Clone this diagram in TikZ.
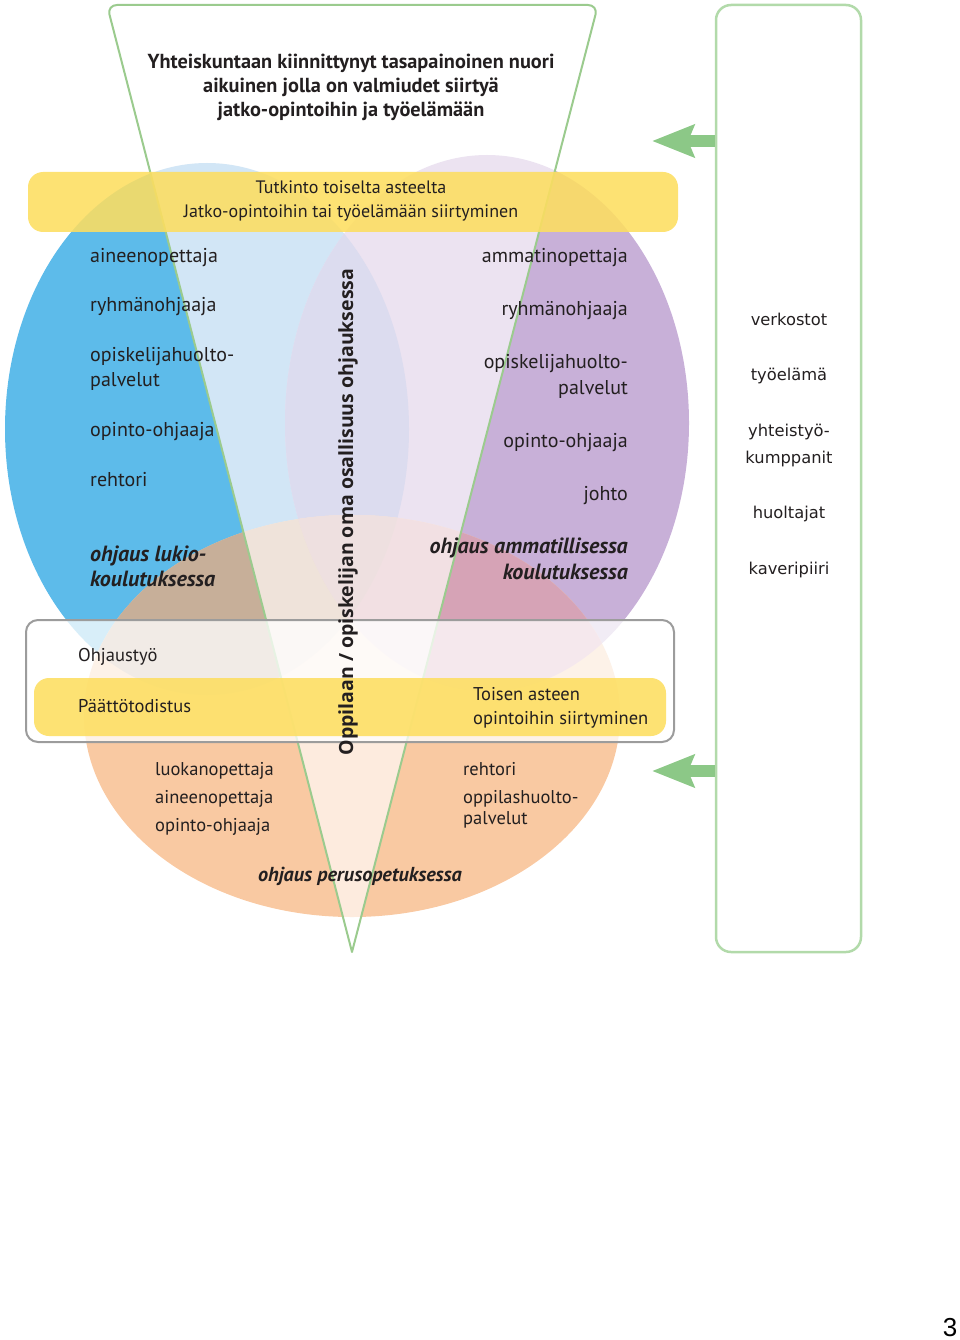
\documentclass[tikz,border=0pt]{standalone}
\usepackage{fontspec}
\setmainfont{PT Sans}
\newfontfamily\vfont{Open Sans}
\newfontfamily\rfont{DejaVu Sans}
\newfontfamily\pfont{Liberation Sans}
\usetikzlibrary{arrows.meta}
\definecolor{cBlue}{HTML}{5DBBEA}
\definecolor{cPurple}{HTML}{C8B0D8}
\definecolor{cOrange}{HTML}{F9C9A2}
\definecolor{cBrown}{HTML}{C7AF99}
\definecolor{cPink}{HTML}{D6A3B6}
\definecolor{lBlue}{HTML}{D2E6F6}
\definecolor{lPurple}{HTML}{ECE3F1}
\definecolor{lBP}{HTML}{DCDCEF}
\definecolor{lOrange}{HTML}{FDEBDE}
\definecolor{lBO}{HTML}{EFE3DA}
\definecolor{lPO}{HTML}{F2E0E3}
\definecolor{lBPO}{HTML}{EEE0E0}
\definecolor{cYellow}{HTML}{FDDE60}
\definecolor{cGreen}{HTML}{8CC887}
\definecolor{cGreenL}{HTML}{B2DAAA}
\definecolor{cTri}{HTML}{9BCB8E}
\definecolor{cGray}{HTML}{9C9C9C}
\definecolor{cText}{HTML}{231F20}
\def\Bpath{(207,429) ellipse [x radius=202pt, y radius=266pt]}
\def\Ppath{(487,423) ellipse [x radius=202pt, y radius=268pt]}
\def\Opath{(352,716) ellipse [x radius=268pt, y radius=201pt]}
\def\Tpath{(352,952) -- (107,5) -- (598,5) -- cycle}
\begin{document}
\begin{tikzpicture}[x=1pt,y=-1pt,
  txt/.style={inner sep=0pt, text=cText, font=\fontsize{20}{24}\selectfont},
  stxt/.style={inner sep=0pt, text=cText, font=\fontsize{18.5}{22}\selectfont},
  btxt/.style={inner sep=0pt, text=cText, font=\fontsize{18}{22}\selectfont},
  ttl/.style={inner sep=0pt, text=cText, font=\fontsize{20.3}{24}\selectfont\bfseries},
  emph/.style={inner sep=0pt, text=cText, font=\fontsize{22}{26}\selectfont\bfseries\itshape},
  semph/.style={inner sep=0pt, text=cText, font=\fontsize{20.2}{24}\selectfont\bfseries\itshape},
  rtxt/.style={inner sep=0pt, text=cText, font=\rfont\fontsize{16.3}{19}\selectfont},
  band/.style={fill=cYellow, fill opacity=0.88, rounded corners=15pt, inner sep=0pt},
  garrow/.style={draw=cGreen, line width=12pt, -{Stealth[length=42pt, width=32pt, inset=6pt]}}]
\useasboundingbox (0,0) rectangle (960,1340);
% outside-triangle colours
\fill[cBlue] \Bpath;
\fill[cPurple] \Ppath;
\fill[cOrange] \Opath;
\begin{scope}\clip \Bpath; \fill[cBrown] \Opath;\end{scope}
\begin{scope}\clip \Ppath; \fill[cPink] \Opath;\end{scope}
% inside-triangle colours
\begin{scope}
  \clip \Tpath;
  \fill[white] \Tpath;
  \fill[lBlue] \Bpath;
  \fill[lPurple] \Ppath;
  \begin{scope}\clip \Bpath; \fill[lBP] \Ppath;\end{scope}
  \fill[lOrange] \Opath;
  \begin{scope}\clip \Bpath; \fill[lBO] \Opath;\end{scope}
  \begin{scope}\clip \Ppath; \fill[lPO] \Opath;\end{scope}
  \begin{scope}\clip \Bpath; \clip \Ppath; \fill[lBPO] \Opath;\end{scope}
\end{scope}
% triangle outline
\draw[cTri, line width=2pt, rounded corners=10pt, line cap=round] (352,952) -- (107,5) -- (598,5) -- (352,952);
% bands and boxes
\node[band, minimum width=650pt, minimum height=60pt] (band1) at (353,202) {};
\node[draw=cGray, line width=2pt, fill=white, fill opacity=0.76, rounded corners=12pt, minimum width=648pt, minimum height=122pt, inner sep=0pt] (obox) at (350,681) {};
\node[band, minimum width=632pt, minimum height=58pt] (band2) at (350,707) {};
\node[draw=cGreenL, line width=2.5pt, rounded corners=15pt, minimum width=145pt, minimum height=947pt, inner sep=0pt] (net) at (788.5,478.5) {};
\coordinate (tip1) at (652,141);
\coordinate (tip2) at (652,771);
\draw[garrow] (net.west |- tip1) -- (tip1);
\draw[garrow] (net.west |- tip2) -- (tip2);
% title
\node[ttl, anchor=base] (t1) at (351,69) {Yhteiskuntaan kiinnittynyt tasapainoinen nuori};
\node[ttl, anchor=base] (t2) at (351,93) {aikuinen jolla on valmiudet siirtyä};
\node[ttl, anchor=base] (t3) at (351,117) {jatko-opintoihin ja työelämään};
% top band text
\node[btxt, anchor=base] (b1) at (351,194) {Tutkinto toiselta asteelta};
\node[btxt, anchor=base] (b2) at (351,218) {Jatko-opintoihin tai työelämään siirtyminen};
% left column
\node[txt, anchor=base west] (l1) at (90,262) {aineenopettaja};
\node[txt, anchor=base west] (l2) at (90,311) {ryhmänohjaaja};
\node[txt, anchor=base west] (l3) at (90,361) {opiskelijahuolto-};
\node[txt, anchor=base west] (l3b) at (90,386) {palvelut};
\node[txt, anchor=base west] (l4) at (90,436) {opinto-ohjaaja};
\node[txt, anchor=base west] (l5) at (90,486) {rehtori};
\node[emph, anchor=base west] (l6) at (90,561) {ohjaus lukio-};
\node[emph, anchor=base west] (l6b) at (90,586) {koulutuksessa};
% right column
\node[txt, anchor=base east] (r1) at (628,262) {ammatinopettaja};
\node[txt, anchor=base east] (r2) at (628,315) {ryhmänohjaaja};
\node[txt, anchor=base east] (r3) at (628,368) {opiskelijahuolto-};
\node[txt, anchor=base east] (r3b) at (628,394) {palvelut};
\node[txt, anchor=base east] (r4) at (628,447) {opinto-ohjaaja};
\node[txt, anchor=base east] (r5) at (628,500) {johto};
\node[emph, anchor=base east] (r6) at (628,553) {ohjaus ammatillisessa};
\node[emph, anchor=base east] (r6b) at (628,579) {koulutuksessa};
% box texts
\node[stxt, anchor=base west] (o1) at (78,661) {Ohjaustyö};
\node[stxt, anchor=base west] (o2) at (78,712) {Päättötodistus};
\node[stxt, anchor=base west] (o3) at (473,700) {Toisen asteen};
\node[stxt, anchor=base west] (o4) at (473,724) {opintoihin siirtyminen};
% bottom texts
\node[stxt, anchor=base west] (p1) at (155,775) {luokanopettaja};
\node[stxt, anchor=base west] (p2) at (155,803) {aineenopettaja};
\node[stxt, anchor=base west] (p3) at (155,831) {opinto-ohjaaja};
\node[stxt, anchor=base west] (p4) at (463,775) {rehtori};
\node[stxt, anchor=base west] (p5) at (463,803) {oppilashuolto-};
\node[stxt, anchor=base west] (p6) at (463,824) {palvelut};
\node[semph, anchor=base] (p7) at (360,881) {ohjaus perusopetuksessa};
% vertical text
\node[inner sep=0pt, text=cText, font=\vfont\fontsize{19.5}{23}\selectfont\bfseries, rotate=90] (vert) at (348,512) {Oppilaan / opiskelijan oma osallisuus ohjauksessa};
% network box texts
\node[rtxt, anchor=base] (n1) at (789,325) {verkostot};
\node[rtxt, anchor=base] (n2) at (789,380) {työelämä};
\node[rtxt, anchor=base] (n3) at (789,436) {yhteistyö-};
\node[rtxt, anchor=base] (n3b) at (789,463) {kumppanit};
\node[rtxt, anchor=base] (n4) at (789,518) {huoltajat};
\node[rtxt, anchor=base] (n5) at (789,574) {kaveripiiri};
% page number
\node[inner sep=0pt, font=\pfont\fontsize{26}{30}\selectfont] (pg) at (950,1328) {3};
\end{tikzpicture}
\end{document}
